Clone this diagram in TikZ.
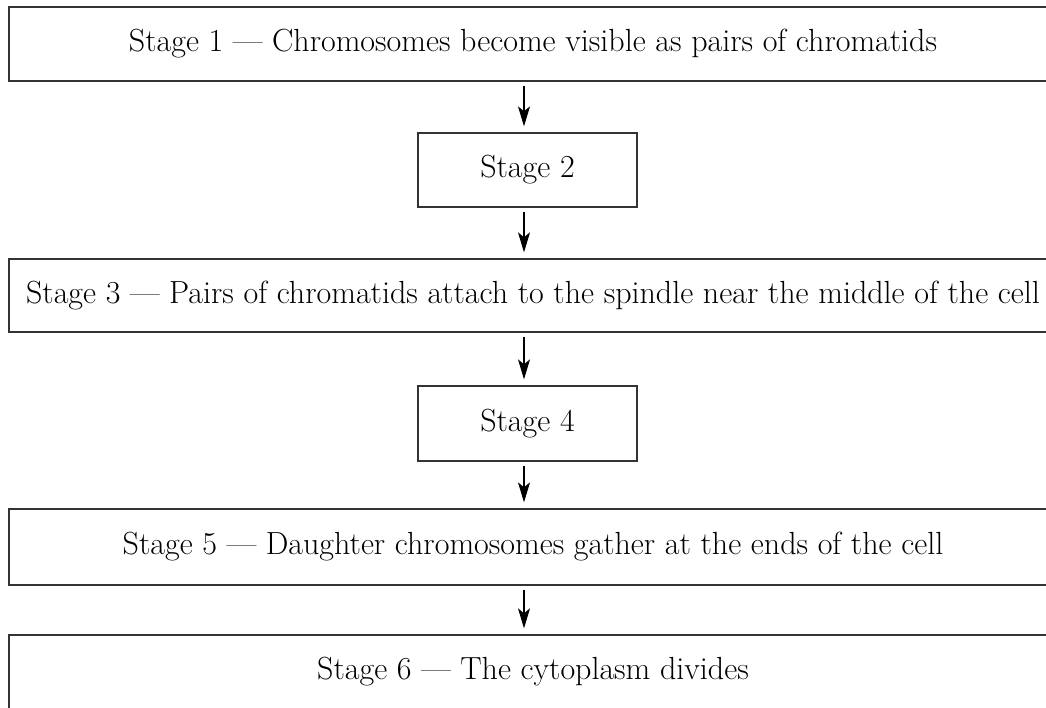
\documentclass[tikz,border=0pt]{standalone}
\usetikzlibrary{arrows.meta}
\begin{document}
\begin{tikzpicture}[x=1pt,y=1pt,
  stagebox/.style={draw=black!80, line width=1.3pt, inner sep=0pt, anchor=center,
    font=\fontsize{32}{38}\selectfont},
  widebox/.style={stagebox, minimum width=1048pt},
  smallbox/.style={stagebox, minimum width=219pt},
  flow/.style={line width=1.1pt, -{Stealth[length=20pt,width=12pt,inset=5pt]},
    shorten <=4pt, shorten >=6pt}]
\useasboundingbox (0,0) rectangle (1046,-707);
\clip (0,0) rectangle (1046,-707);
\fill[white] (0,0) rectangle (1046,-707);
\coordinate (ax) at (524,0);
\node[widebox, minimum height=74pt] (b1) at (533,-44) {Stage 1 --- Chromosomes become visible as pairs of chromatids};
\node[smallbox, minimum height=74pt] (b2) at (527.5,-170) {Stage 2};
\node[widebox, minimum height=73pt] (b3) at (533,-295.5) {Stage 3 --- Pairs of chromatids attach to the spindle near the middle of the cell};
\node[smallbox, minimum height=75pt] (b4) at (527.5,-423.5) {Stage 4};
\node[widebox, minimum height=76pt] (b5) at (533,-547) {Stage 5 --- Daughter chromosomes gather at the ends of the cell};
\node[widebox, minimum height=74pt] (b6) at (533,-672) {Stage 6 --- The cytoplasm divides};
\draw[flow] (b1.south -| ax) -- (b2.north -| ax);
\draw[flow] (b2.south -| ax) -- (b3.north -| ax);
\draw[flow] (b3.south -| ax) -- (b4.north -| ax);
\draw[flow] (b4.south -| ax) -- (b5.north -| ax);
\draw[flow] (b5.south -| ax) -- (b6.north -| ax);
\end{tikzpicture}
\end{document}
